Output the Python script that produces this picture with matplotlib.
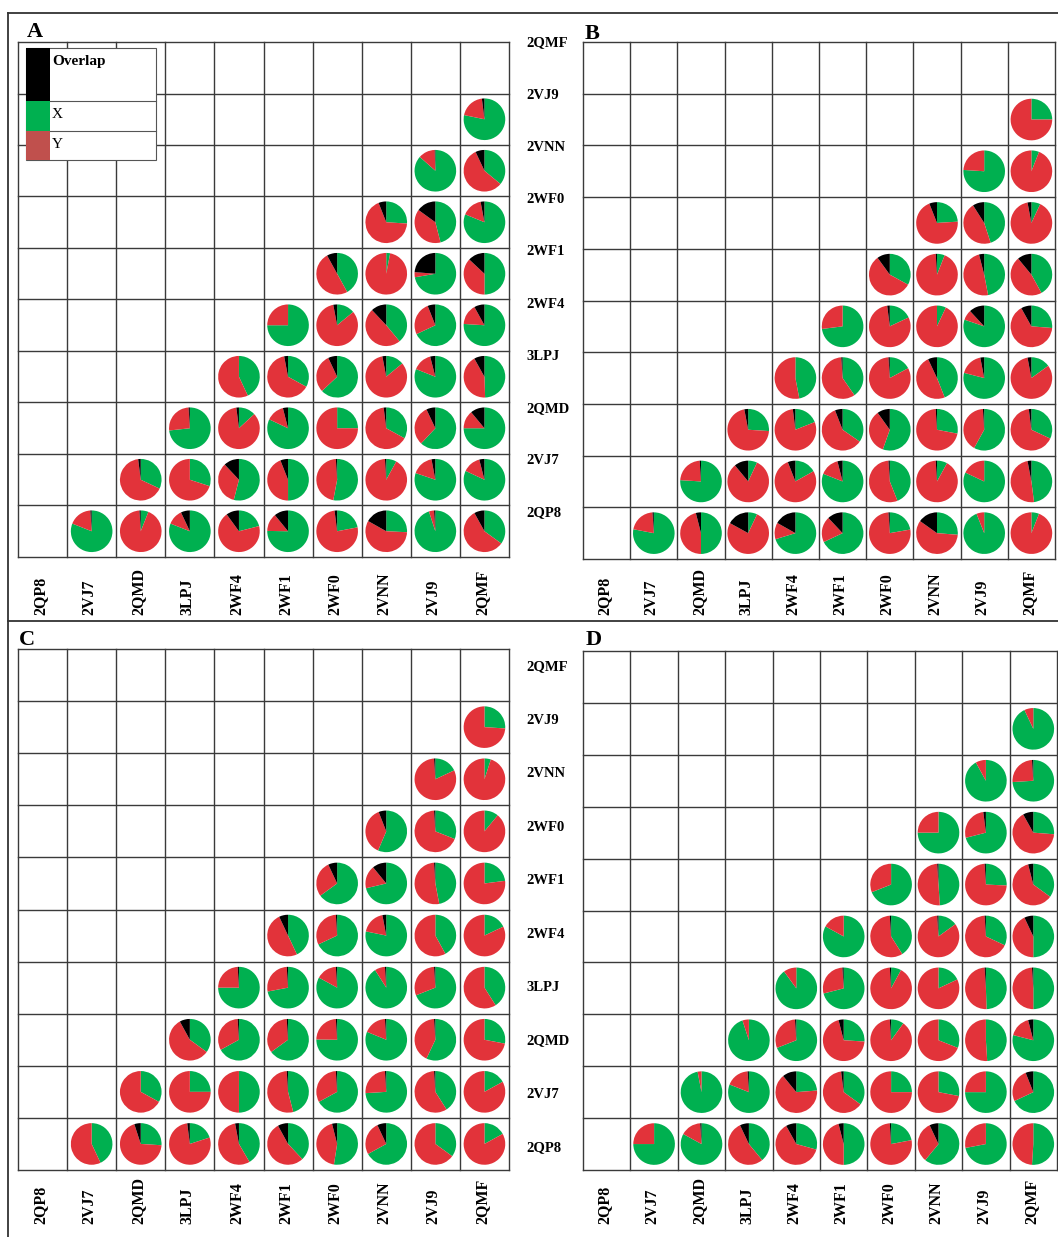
import numpy as np
import matplotlib
matplotlib.use("Agg")
import matplotlib.pyplot as plt
from matplotlib.patches import Rectangle

# structure labels
row_labels = ["2QMF", "2VJ9", "2VNN", "2WF0", "2WF1", "2WF4", "3LPJ", "2QMD", "2VJ7", "2QP8"]
col_labels = ["2QP8", "2VJ7", "2QMD", "3LPJ", "2WF4", "2WF1", "2WF0", "2VNN", "2VJ9", "2QMF"]
panel_names = ["A", "B", "C", "D"]

# percentages per pie; row k (2VJ9 .. 2QP8) holds the pies of the last k+1 columns
A_x = [[79], [87, 36], [26, 46, 82], [42, 3, 73, 50], [75, 14, 39, 68, 76],
       [43, 33, 63, 14, 81, 49], [74, 13, 82, 25, 33, 62, 75],
       [32, 30, 54, 50, 53, 8, 81, 82], [81, 6, 81, 21, 76, 22, 26, 95, 35]]
A_y = [[20], [13, 57], [68, 39, 16], [50, 97, 4, 37], [25, 83, 49, 26, 16],
       [57, 64, 30, 83, 15, 42], [26, 84, 14, 75, 65, 31, 14],
       [66, 70, 34, 44, 46, 91, 17, 14], [18, 93, 12, 69, 14, 76, 58, 4, 57]]
A_o = [[2], [0.5, 7], [6, 15, 3], [8, 0, 24, 13], [0, 3, 12, 6, 8],
       [0, 3, 7, 3, 4, 8], [1, 2, 4, 0, 2, 7, 11],
       [2, 0, 12, 6, 1, 1, 3, 4], [1, 1, 7, 10, 11, 2, 17, 1, 8]]

B_x = [[25], [76, 6], [24, 45, 7], [33, 6, 47, 42], [73, 18, 7, 81, 26],
       [47, 40, 17, 44, 79, 15], [26, 19, 35, 56, 28, 58, 32],
       [76, 7, 17, 81, 44, 8, 82, 48], [78, 50, 7, 71, 68, 22, 26, 94, 6]]
B_y = [[75], [24, 94], [70, 46, 90], [57, 93, 49, 47], [27, 80, 93, 8, 65],
       [53, 58, 81, 49, 18, 82], [71, 79, 60, 35, 71, 41, 66],
       [23, 82, 78, 15, 55, 91, 18, 49], [21, 46, 76, 13, 20, 76, 58, 6, 94]]
B_o = [[0], [0, 0], [6, 9, 3], [10, 1, 4, 11], [0, 2, 0, 12, 8],
       [0, 1, 1, 7, 3, 3], [3, 2, 6, 10, 1, 1, 2],
       [1, 11, 6, 4, 1, 1, 0, 3], [1, 4, 17, 17, 12, 1, 15, 0, 0]]

C_x = [[26], [18, 5], [57, 31, 11], [65, 72, 47, 23], [43, 68, 79, 42, 18],
       [75, 72, 83, 91, 69, 41], [35, 67, 65, 76, 82, 57, 28],
       [33, 25, 50, 46, 67, 74, 41, 17], [43, 26, 20, 42, 38, 53, 67, 35, 17]]
C_y = [[74], [81, 95], [38, 68, 89], [28, 18, 52, 77], [50, 31, 19, 58, 82],
       [24, 27, 16, 8, 30, 59], [57, 32, 34, 24, 18, 42, 72],
       [67, 75, 50, 53, 32, 25, 58, 83], [57, 69, 78, 56, 54, 44, 26, 65, 83]]
C_o = [[0], [1, 0], [6, 1, 0], [7, 11, 1, 0], [7, 1, 3, 0, 0],
       [1, 1, 1, 1, 1, 0], [8, 1, 1, 1, 1, 1, 0],
       [0, 0, 0, 1, 1, 1, 1, 0], [0, 5, 2, 3, 8, 4, 7, 0, 0]]

D_x = [[93], [92, 74], [75, 71, 26], [69, 49, 26, 35], [83, 41, 15, 32, 50],
       [90, 71, 8, 18, 49, 50], [95, 69, 26, 10, 31, 49, 79],
       [97, 81, 24, 35, 25, 28, 75, 68], [75, 83, 39, 29, 50, 22, 61, 72, 51]]
D_y = [[7], [8, 25], [25, 27, 65], [31, 50, 74, 61], [17, 58, 84, 67, 43],
       [10, 28, 92, 82, 49, 49], [5, 30, 70, 89, 69, 51, 17],
       [3, 18, 66, 63, 75, 72, 25, 26], [25, 16, 54, 62, 46, 77, 32, 28, 49]]
D_o = [[0], [0, 1], [0, 2, 8], [0, 1, 1, 4], [0, 1, 1, 1, 7],
       [0, 1, 1, 0, 1, 1], [0, 1, 4, 1, 0, 0, 4],
       [0, 1, 11, 2, 0, 0, 0, 6], [0, 1, 7, 8, 4, 1, 7, 0, 0]]

panel_data = {"A": (A_x, A_y, A_o), "B": (B_x, B_y, B_o),
              "C": (C_x, C_y, C_o), "D": (D_x, D_y, D_o)}

# layout in pixels: grid left, top, width, height
W, H = 1058, 1237
grid_rect = {"A": (18, 42, 491, 515), "B": (583, 42, 472, 517),
             "C": (18, 649, 491, 521), "D": (583, 651, 474, 519)}
letter_pos = {"A": (27, 37), "B": (585, 39), "C": (19, 645), "D": (586, 645)}
collabel_bottom = {"A": 615, "B": 615, "C": 1224, "D": 1224}
rowlabel_y = {"A": np.linspace(43, 513, 10), "C": np.linspace(667, 1148, 10)}

GREEN = "#00B050"
RED = "#E2333A"
BLACK = "#000000"
LINE = "#3a3a3a"
SERIF = "Liberation Serif"
PIE_R = 20.8

fig = plt.figure(figsize=(W / 100, H / 100), dpi=100)
fig.patch.set_facecolor("white")

for name in panel_names:
    left, top, w, h = grid_rect[name]
    ax = fig.add_axes([left / W, 1 - (top + h) / H, w / W, h / H])
    cw, rh = w / 10, h / 10
    xs, ys, os_ = panel_data[name]
    for i in range(1, 10):
        vals_x, vals_y, vals_o = xs[i - 1], ys[i - 1], os_[i - 1]
        for k, j in enumerate(range(10 - i, 10)):
            cx = (j + 0.5) * cw
            cy = h - (i + 0.5) * rh
            ax.pie([vals_x[k], vals_y[k], vals_o[k]], colors=[GREEN, RED, BLACK],
                   startangle=90, counterclock=False, center=(cx, cy),
                   radius=PIE_R, frame=True, wedgeprops={"linewidth": 0})
    for k in range(11):
        ax.axvline(k * cw, color=LINE, lw=1.0, clip_on=False)
        ax.axhline(k * rh, color=LINE, lw=1.0, clip_on=False)
    ax.set_aspect("auto")
    ax.set_xlim(0, w)
    ax.set_ylim(0, h)
    ax.axis("off")

# overlay in pixel coordinates for frame, labels and legend
ov = fig.add_axes([0, 0, 1, 1], zorder=5)
ov.set_xlim(0, W)
ov.set_ylim(H, 0)
ov.axis("off")
ov.set_facecolor("none")

ov.plot([8, W], [13, 13], color="#333333", lw=1.3)
ov.plot([8, 8], [13, H], color="#333333", lw=1.3)
ov.plot([8, W], [621, 621], color="#333333", lw=1.3)

for name in panel_names:
    left, top, w, h = grid_rect[name]
    lx, ly = letter_pos[name]
    ov.text(lx, ly, name, family=SERIF, fontweight="bold", fontsize=16,
            ha="left", va="baseline")
    cw = w / 10
    for j, lab in enumerate(col_labels):
        ov.text(left + (j + 0.5) * cw - 2, collabel_bottom[name], lab, rotation=90,
                family=SERIF, fontweight="bold", fontsize=11.5, ha="center", va="bottom")
    if name in rowlabel_y:
        for y, lab in zip(rowlabel_y[name], row_labels):
            ov.text(526, y, lab, family=SERIF, fontweight="bold", fontsize=10.5,
                    ha="left", va="center")

# legend box in panel A
ov.add_patch(Rectangle((26, 48), 130, 112, facecolor="white", edgecolor="#555555", lw=0.8))
ov.add_patch(Rectangle((26, 48), 24, 53, facecolor=BLACK, edgecolor="none"))
ov.add_patch(Rectangle((26, 101), 24, 29.5, facecolor=GREEN, edgecolor="none"))
ov.add_patch(Rectangle((26, 130.5), 24, 29.5, facecolor="#C0504D", edgecolor="none"))
ov.plot([50, 156], [101, 101], color="#555555", lw=0.8)
ov.plot([50, 156], [130.5, 130.5], color="#555555", lw=0.8)
ov.text(52, 61, "Overlap", family=SERIF, fontweight="bold", fontsize=11, ha="left", va="center")
ov.text(52, 115, "X", family=SERIF, fontsize=11, ha="left", va="center")
ov.text(52, 144, "Y", family=SERIF, fontsize=11, ha="left", va="center")

fig.savefig("out.png", dpi=100)
